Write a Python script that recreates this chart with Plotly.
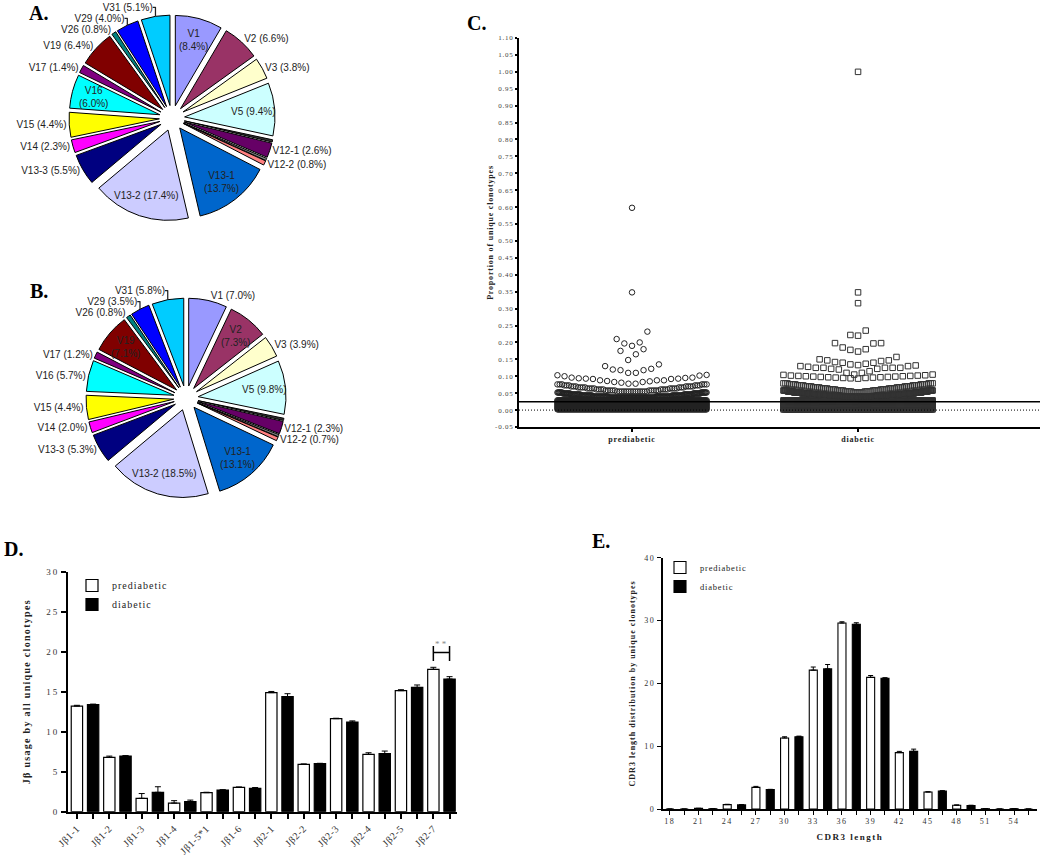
import math
import plotly.graph_objects as go

W, H = 1050, 858
SERIF = "Liberation Serif"
SANS = "Liberation Sans"

# ------------------------------------------------------------------ data
# Panels A / B : V-beta usage (pie), clockwise from 12 o'clock
v_labels = ["V1", "V2", "V3", "V5", "Vx-a", "V12-1", "Vx-b", "V12-2", "V13-1", "V13-2",
            "V13-3", "V14", "V15", "V16", "V17", "V19", "V26", "V29", "V31"]
a_pct = [8.4, 6.6, 3.8, 9.4, 0.4, 2.6, 0.4, 0.8, 13.7, 17.4,
         5.5, 2.3, 4.4, 6.0, 1.4, 6.4, 0.8, 4.0, 5.1]
b_pct = [7.0, 7.3, 3.9, 9.8, 0.4, 2.3, 0.4, 0.7, 13.1, 18.5,
         5.3, 2.0, 4.4, 5.7, 1.2, 7.1, 0.8, 3.5, 5.8]
v_colors = ["#9999FF", "#993366", "#FFFFCC", "#CCFFFF", "#333333", "#660066", "#808080",
            "#FF8080", "#0066CC", "#CCCCFF", "#000080", "#FF00FF", "#FFFF00", "#00FFFF",
            "#800080", "#800000", "#008080", "#0000FF", "#00CCFF"]
unlabeled = ["Vx-a", "Vx-b"]
a_inside_two = ["V1", "V13-1", "V16"]
a_inside_one = ["V5", "V13-2"]
b_inside_two = ["V2", "V13-1", "V19"]
b_inside_one = ["V5", "V13-2"]

# Panel C : proportion of unique clonotypes, rows of (value, count)
c_groups = ["prediabetic", "diabetic"]
pre_rows = [
    [(0.002, 150)], [(0.006, 150)], [(0.010, 150)], [(0.014, 150)],
    [(0.018, 150)], [(0.022, 150)], [(0.026, 150)], [(0.029, 150)],
    [(0.037, 60), (0.040, 40), (0.043, 30), (0.046, 25), (0.049, 20), (0.052, 15)],
    [(0.055, 14), (0.058, 10), (0.061, 8), (0.064, 8), (0.067, 7), (0.070, 7), (0.073, 6), (0.076, 6)],
    [(0.078, 2), (0.081, 1), (0.083, 2), (0.085, 1), (0.086, 1), (0.088, 3), (0.092, 2), (0.093, 2),
     (0.094, 1), (0.095, 1), (0.096, 2), (0.100, 1), (0.102, 1), (0.103, 1), (0.104, 1)],
    [(0.11, 2), (0.118, 2), (0.12, 1), (0.122, 1), (0.13, 1), (0.135, 1)],
    [(0.148, 1), (0.165, 1), (0.175, 1), (0.18, 1)],
    [(0.19, 1), (0.197, 1), (0.20, 1), (0.21, 1), (0.232, 1)],
    [(0.348, 1)],
    [(0.598, 1)],
]
dia_rows = [
    [(0.002, 150)], [(0.006, 150)], [(0.010, 150)], [(0.014, 150)],
    [(0.018, 150)], [(0.022, 150)], [(0.026, 150)], [(0.029, 150)],
    [(0.040, 60), (0.043, 50), (0.046, 40), (0.049, 30), (0.052, 25), (0.055, 20), (0.058, 15)],
    [(0.052, 6), (0.055, 8), (0.058, 8), (0.061, 8), (0.064, 8), (0.067, 8), (0.070, 8),
     (0.073, 8), (0.076, 8), (0.079, 6)],
    [(0.093, 1), (0.094, 1), (0.095, 2), (0.096, 2), (0.097, 2), (0.098, 2), (0.099, 2),
     (0.100, 2), (0.101, 2), (0.102, 2), (0.103, 1), (0.104, 1), (0.105, 1)],
    [(0.105, 1), (0.11, 2), (0.115, 1), (0.12, 1), (0.122, 2), (0.125, 5), (0.128, 1),
     (0.13, 2), (0.132, 1)],
    [(0.133, 1), (0.135, 1), (0.137, 1), (0.14, 2), (0.142, 1), (0.145, 1), (0.147, 2),
     (0.15, 1), (0.157, 1)],
    [(0.173, 1), (0.178, 1), (0.18, 1), (0.185, 1), (0.197, 1), (0.198, 2)],
    [(0.22, 1), (0.222, 1), (0.235, 1)],
    [(0.316, 1)],
    [(0.348, 1)],
    [(1.0, 1)],
]
c_mean_line = 0.025
c_zero_line = 0.0
c_yticks = [round(-0.05 + 0.05 * k, 2) for k in range(24)]

# Panel D : J-beta usage
d_cats = ["Jβ1-1", "Jβ1-2", "Jβ1-3", "Jβ1-4", "Jβ1-5*1", "Jβ1-6",
          "Jβ2-1", "Jβ2-2", "Jβ2-3", "Jβ2-4", "Jβ2-5", "Jβ2-7"]
d_pre = [13.2, 6.8, 1.67, 1.08, 2.38, 3.04, 14.88, 5.92, 11.63, 7.17, 15.13, 17.8]
d_pre_err = [0.1, 0.15, 0.6, 0.3, 0.05, 0.05, 0.15, 0.05, 0.05, 0.2, 0.12, 0.25]
d_dia = [13.4, 6.96, 2.42, 1.25, 2.7, 2.92, 14.4, 6.0, 11.2, 7.25, 15.54, 16.58]
d_dia_err = [0.05, 0.05, 0.7, 0.2, 0.05, 0.1, 0.35, 0.05, 0.15, 0.33, 0.3, 0.3]
d_sig_cat = "Jβ2-7"
d_sig_text = "* *"
d_yticks = [0, 5, 10, 15, 20, 25, 30]

# Panel E : CDR3 length distribution
e_len = [18, 21, 24, 27, 30, 33, 36, 39, 42, 45, 48, 51, 54]
e_pre = [0.0, 0.1, 0.7, 3.45, 11.3, 22.1, 29.6, 20.95, 8.97, 2.7, 0.6, 0.05, 0.05]
e_pre_err = [0, 0, 0.05, 0.15, 0.2, 0.5, 0.2, 0.3, 0.2, 0.05, 0.05, 0, 0]
e_dia = [0.0, 0.05, 0.65, 3.08, 11.5, 22.3, 29.4, 20.8, 9.18, 2.86, 0.55, 0.0, 0.0]
e_dia_err = [0, 0, 0.05, 0.05, 0.1, 0.7, 0.25, 0.1, 0.35, 0.05, 0.05, 0, 0]
e_yticks = [0, 10, 20, 30, 40]


# ------------------------------------------------------------------ helpers
def ls(text, px):
    return f'<span style="letter-spacing:{px}px">{text}</span>'


def px_x(p):
    return p / W


def px_y(p):
    return 1 - p / H


def swarm(rows, center, half_width, step):
    xs, ys = [], []
    for row in rows:
        vals = sorted(v for v, c in row for _ in range(c))
        n = len(vals)
        s = min(step, 2 * half_width / (n - 1)) if n > 1 else 0
        offs = [(k - (n - 1) / 2) * s for k in range(n)]
        order = sorted(range(n), key=lambda k: (abs(offs[k]), offs[k]))
        for v, k in zip(vals, order):
            xs.append(center + offs[k])
            ys.append(v)
    return xs, ys


PULL = 0.14


def pie_parts(pcts, two, one, cx, cy, R):
    """Outside labels go to plotly; inside labels become annotations placed
    at the angular middle of each slice."""
    texts, pos, notes = [], [], []
    total = sum(pcts)
    r = R / (1 + PULL)
    cum = 0.0
    for lab, p in zip(v_labels, pcts):
        theta = 2 * math.pi * (cum + p / 2) / total
        cum += p
        if lab in unlabeled:
            texts.append("")
            pos.append("none")
            continue
        if lab in two or lab in one:
            texts.append("")
            pos.append("none")
            d = PULL * r + 0.76 * r
            t = f"{lab}<br>({p:.1f}%)" if lab in two else f"{lab} ({p:.1f}%)"
            notes.append(dict(text=t, x=px_x(cx + d * math.sin(theta)),
                              y=px_y(cy - d * math.cos(theta)), xref="paper", yref="paper",
                              showarrow=False, xanchor="center", yanchor="middle",
                              font=dict(family=SANS, size=10, color="#222")))
        else:
            texts.append(f"{lab} ({p:.1f}%)")
            pos.append("outside")
    return texts, pos, notes


fig = go.Figure()
annotations = []

# ------------------------------------------------------------------ pies
for pcts, two, one, cx, cy, R in [(a_pct, a_inside_two, a_inside_one, 172, 118, 103),
                                   (b_pct, b_inside_two, b_inside_one, 186, 398, 100)]:
    texts, pos, notes = pie_parts(pcts, two, one, cx, cy, R)
    annotations += notes
    fig.add_trace(go.Pie(
        labels=v_labels, values=pcts, text=texts, textinfo="text", textposition=pos,
        sort=False, direction="clockwise", rotation=0,
        marker=dict(colors=v_colors, line=dict(color="black", width=1)),
        pull=[PULL] * len(v_labels),
        outsidetextfont=dict(family=SANS, size=10, color="#222"),
        domain=dict(x=[px_x(cx - R), px_x(cx + R)], y=[px_y(cy + R), px_y(cy - R)]),
        showlegend=False, hoverinfo="label+value", automargin=False,
    ))

# ------------------------------------------------------------------ panel C
for gi, (rows, sym, col) in enumerate([(pre_rows, "circle-open", "#222"),
                                       (dia_rows, "square-open", "#333")]):
    xs, ys = swarm(rows, gi, 0.33, 0.034)
    fig.add_trace(go.Scatter(
        x=xs, y=ys, mode="markers", xaxis="x", yaxis="y",
        marker=dict(symbol=sym, size=5.5, color=col, line=dict(width=1, color=col)),
        showlegend=False, hoverinfo="y",
    ))

# ------------------------------------------------------------------ panel D
nd = len(d_cats)
d_xw = [i - 0.25 for i in range(nd)]
d_xb = [i + 0.25 for i in range(nd)]
for xs, ys, errs, fill, name in [(d_xw, d_pre, d_pre_err, "white", "prediabetic"),
                                 (d_xb, d_dia, d_dia_err, "black", "diabetic")]:
    fig.add_trace(go.Bar(
        x=xs, y=ys, width=0.35, xaxis="x2", yaxis="y2", name=ls(name, 1),
        marker=dict(color=fill, line=dict(color="black", width=1.2)),
        error_y=dict(type="data", array=errs, arrayminus=[0] * nd, symmetric=False,
                     color="black", thickness=1, width=3),
        legend="legend",
    ))

# ------------------------------------------------------------------ panel E
ne = len(e_len)
e_xw = [float(i) for i in range(ne)]
e_xb = [i + 0.5 for i in range(ne)]
for xs, ys, errs, fill, name in [(e_xw, e_pre, e_pre_err, "white", "prediabetic"),
                                 (e_xb, e_dia, e_dia_err, "black", "diabetic")]:
    fig.add_trace(go.Bar(
        x=xs, y=ys, width=0.28, xaxis="x3", yaxis="y3", name=ls(name, 0.8),
        marker=dict(color=fill, line=dict(color="black", width=1.1)),
        error_y=dict(type="data", array=errs, arrayminus=[0] * ne, symmetric=False,
                     color="black", thickness=1, width=2.5),
        legend="legend2",
    ))

# ------------------------------------------------------------------ shapes
shapes = [
    dict(type="line", xref="x domain", yref="y", x0=0, x1=1, y0=c_mean_line, y1=c_mean_line,
         line=dict(color="black", width=1.5), layer="above"),
    dict(type="line", xref="x domain", yref="y", x0=0, x1=1, y0=c_zero_line, y1=c_zero_line,
         line=dict(color="black", width=1, dash="1px,2px"), layer="above"),
]
si = d_cats.index(d_sig_cat)
sig_base = max(d_pre[si] + d_pre_err[si], d_dia[si] + d_dia_err[si]) + 0.8
sig_mid = sig_base + 1.05
sig_top = sig_base + 1.85
for x0, x1, y0, y1 in [(d_xw[si], d_xb[si], sig_mid, sig_mid),
                       (d_xw[si], d_xw[si], sig_base, sig_top),
                       (d_xb[si], d_xb[si], sig_base, sig_top)]:
    shapes.append(dict(type="line", xref="x2", yref="y2", x0=x0, x1=x1, y0=y0, y1=y1,
                       line=dict(color="black", width=1.5)))

annotations.append(dict(text=d_sig_text, x=si, y=sig_mid + 0.2, xref="x2", yref="y2",
                        showarrow=False, yanchor="bottom",
                        font=dict(family=SERIF, size=9, color="#888")))
for lab, x, y in [("A.", 27, 13), ("B.", 28, 291), ("C.", 465, 23), ("D.", 2, 549), ("E.", 590, 541)]:
    annotations.append(dict(text=f"<b>{lab}</b>", x=px_x(x), y=px_y(y), xref="paper", yref="paper",
                            xanchor="left", yanchor="middle", showarrow=False,
                            font=dict(family=SERIF, size=20, color="black")))

# ------------------------------------------------------------------ layout
axis_common = dict(showgrid=False, zeroline=False, showline=True, linecolor="black",
                   ticks="outside", tickcolor="black", automargin=False)

fig.update_layout(
    width=W, height=H, margin=dict(l=0, r=0, t=0, b=0),
    paper_bgcolor="white", plot_bgcolor="white", barmode="overlay",
    shapes=shapes, annotations=annotations,
    xaxis=dict(axis_common, domain=[px_x(519), px_x(1040)], range=[-0.5, 1.805], anchor="y",
               tickmode="array", tickvals=[0, 1], ticktext=[f"<b>{ls(g, 0.8)}</b>" for g in c_groups],
               ticklen=3, tickwidth=1.5, linewidth=2,
               tickfont=dict(family=SERIF, size=8, color="#222")),
    yaxis=dict(axis_common, domain=[px_y(427), px_y(38)], range=[-0.05, 1.10], anchor="x",
               tickmode="array", tickvals=c_yticks, ticktext=[ls(f"{v:.2f}", 0.8) for v in c_yticks],
               ticklen=2, tickwidth=1.5, linewidth=2,
               tickfont=dict(family=SERIF, size=7, color="#444"),
               title=dict(text=f"<b>{ls('Proportion of unique clonotypes', 0.8)}</b>", standoff=0,
                          font=dict(family=SERIF, size=8, color="#222"))),
    xaxis2=dict(axis_common, domain=[px_x(68), px_x(457)], range=[-0.525, 11.48], anchor="y2",
                tickmode="array", tickvals=d_xw + d_xb,
                ticktext=[ls(c, 0.6) for c in d_cats] + [""] * nd, tickangle=-45,
                ticklen=5, tickwidth=1.5, linewidth=2,
                tickfont=dict(family=SERIF, size=10, color="#333")),
    yaxis2=dict(axis_common, domain=[px_y(811.7), px_y(571.7)], range=[0, 30], anchor="x2",
                tickmode="array", tickvals=d_yticks, ticktext=[ls(str(v), 2) for v in d_yticks],
                ticklen=5, tickwidth=1.5, linewidth=2,
                tickfont=dict(family=SERIF, size=9, color="#333"),
                title=dict(text=f"<b>{ls('Jβ usage by all unique clonotypes', 1.3)}</b>", standoff=14,
                           font=dict(family=SERIF, size=10, color="#222"))),
    xaxis3=dict(axis_common, domain=[px_x(662.7), px_x(1037)], range=[-0.25, 12.8], anchor="y3",
                tickmode="array", tickvals=e_xw + e_xb,
                ticktext=[ls(str(v), 1.5) for v in e_len] + [""] * ne,
                ticklen=4, tickwidth=1.2, linewidth=1.5,
                tickfont=dict(family=SERIF, size=8, color="#333"),
                title=dict(text=f"<b>{ls('CDR3 length', 1.5)}</b>", standoff=8,
                           font=dict(family=SERIF, size=9, color="#222"))),
    yaxis3=dict(axis_common, domain=[px_y(809), px_y(557.7)], range=[0, 40], anchor="x3",
                tickmode="array", tickvals=e_yticks, ticktext=[ls(str(v), 1.5) for v in e_yticks],
                ticklen=4, tickwidth=1.2, linewidth=1.5,
                tickfont=dict(family=SERIF, size=8, color="#333"),
                title=dict(text=f"<b>{ls('CDR3 length distribution by unique clonotypes', 1)}</b>",
                           standoff=8, font=dict(family=SERIF, size=8, color="#222"))),
    legend=dict(x=px_x(72), y=px_y(571), xanchor="left", yanchor="top", tracegroupgap=0,
                bgcolor="rgba(0,0,0,0)", font=dict(family=SERIF, size=10, color="#222")),
    legend2=dict(x=px_x(660), y=px_y(553), xanchor="left", yanchor="top", tracegroupgap=0,
                 bgcolor="rgba(0,0,0,0)", font=dict(family=SERIF, size=8.5, color="#222")),
)

fig.write_html("out.html", config={"displayModeBar": False},
               post_script="document.body.style.margin='0';")
